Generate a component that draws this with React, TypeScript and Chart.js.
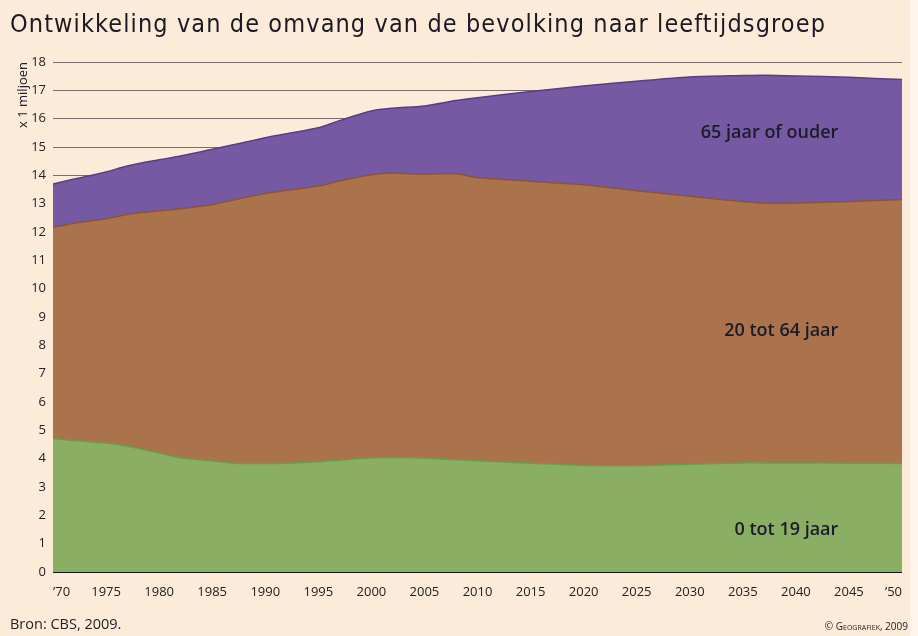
import React, { useEffect, useRef } from 'react';
import { Chart, registerables } from 'chart.js';

Chart.register(...registerables);

// Years of the data points
const years = [1970, 1972, 1975, 1977, 1980, 1982, 1985, 1987, 1990, 1992, 1995, 1997, 2000, 2002, 2005, 2008, 2010, 2015, 2020, 2025, 2030, 2035, 2037, 2040, 2045, 2050];

// Population per age group, x 1 million
const age0to19 = [4.71, 4.64, 4.55, 4.44, 4.2, 4.03, 3.92, 3.84, 3.83, 3.84, 3.89, 3.94, 4.03, 4.04, 4.02, 3.96, 3.93, 3.84, 3.76, 3.75, 3.8, 3.85, 3.85, 3.85, 3.84, 3.83];
const age20to64 = [7.45, 7.67, 7.92, 8.18, 8.55, 8.79, 9.05, 9.29, 9.53, 9.63, 9.73, 9.86, 9.99, 10.04, 10.02, 10.1, 9.99, 9.95, 9.91, 9.71, 9.46, 9.23, 9.17, 9.17, 9.24, 9.32];
const age65plus = [1.53, 1.56, 1.65, 1.71, 1.8, 1.86, 1.95, 1.95, 1.97, 2.0, 2.06, 2.13, 2.25, 2.29, 2.41, 2.58, 2.82, 3.17, 3.48, 3.86, 4.21, 4.44, 4.51, 4.49, 4.38, 4.23];

const seriesNames = ['0 tot 19 jaar', '20 tot 64 jaar', '65 jaar of ouder'];

// Axis ticks
const xTickYears = [1970, 1975, 1980, 1985, 1990, 1995, 2000, 2005, 2010, 2015, 2020, 2025, 2030, 2035, 2040, 2045, 2050];
const xTickLabels = ['\u201970', '1975', '1980', '1985', '1990', '1995', '2000', '2005', '2010', '2015', '2020', '2025', '2030', '2035', '2040', '2045', '\u201950'];
const yTickValues = [0, 1, 2, 3, 4, 5, 6, 7, 8, 9, 10, 11, 12, 13, 14, 15, 16, 17, 18];

const TEXT_FONT = '"Open Sans", "Noto Sans", sans-serif';

const areaLabels = {
  id: 'areaLabels',
  afterDraw(chart: any) {
    const { ctx, scales } = chart;
    const x = scales.x;
    const y = scales.y;
    ctx.save();
    ctx.font = '600 18px ' + TEXT_FONT;
    ctx.fillStyle = '#1d1b29';
    ctx.textAlign = 'right';
    ctx.textBaseline = 'middle';
    const xr = x.getPixelForValue(2044);
    ctx.fillText(seriesNames[2], xr, y.getPixelForValue(15.5));
    ctx.fillText(seriesNames[1], xr, y.getPixelForValue(8.5));
    ctx.fillText(seriesNames[0], xr, y.getPixelForValue(1.5));
    ctx.restore();
  },
};

export default function App() {
  const canvasRef = useRef<HTMLCanvasElement | null>(null);

  useEffect(() => {
    document.body.style.margin = '0';
    const canvas = canvasRef.current;
    if (!canvas) return;
    const mk = (vals: number[]) => years.map((yr, i) => ({ x: yr, y: vals[i] }));
    const chart = new Chart(canvas, {
      type: 'line',
      data: {
        datasets: [
          {
            label: seriesNames[0],
            data: mk(age0to19),
            backgroundColor: 'rgb(139,174,101)',
            borderColor: 'rgb(104,158,72)',
            borderWidth: 1.5,
            fill: 'origin',
            pointRadius: 0,
            tension: 0.3,
          },
          {
            label: seriesNames[1],
            data: mk(age20to64),
            backgroundColor: 'rgb(170,115,75)',
            borderColor: 'rgb(140,84,48)',
            borderWidth: 1.5,
            fill: '-1',
            pointRadius: 0,
            tension: 0.3,
          },
          {
            label: seriesNames[2],
            data: mk(age65plus),
            backgroundColor: 'rgb(118,89,163)',
            borderColor: 'rgb(88,60,140)',
            borderWidth: 1.5,
            fill: '-1',
            pointRadius: 0,
            tension: 0.3,
          },
        ],
      },
      options: {
        responsive: false,
        animation: false,
        devicePixelRatio: 1,
        layout: { padding: { left: 10, right: 16, top: 62, bottom: 34 } },
        plugins: {
          legend: { display: false },
          tooltip: { enabled: false },
          title: { display: false },
        },
        scales: {
          x: {
            type: 'linear',
            min: 1970,
            max: 2050,
            afterBuildTicks: (scale: any) => {
              scale.ticks = xTickYears.map((v) => ({ value: v }));
            },
            afterFit: (scale: any) => {
              scale.height = 30;
            },
            grid: { display: false, drawTicks: false },
            border: { display: false },
            ticks: {
              autoSkip: false,
              maxRotation: 0,
              padding: 12,
              align: 'inner',
              color: '#222028',
              font: { family: TEXT_FONT, size: 13 },
              callback: (v: any) => {
                const i = xTickYears.indexOf(Number(v));
                return i >= 0 ? xTickLabels[i] : '';
              },
            },
          },
          y: {
            stacked: true,
            min: 0,
            max: 18,
            z: 1,
            afterBuildTicks: (scale: any) => {
              scale.ticks = yTickValues.map((v) => ({ value: v }));
            },
            afterFit: (scale: any) => {
              scale.width = 43;
            },
            grid: {
              drawTicks: false,
              color: (c: any) => (c.tick && c.tick.value === 0 ? '#15151a' : 'rgba(35,25,40,0.6)'),
              lineWidth: (c: any) => (c.tick && c.tick.value === 0 ? 2 : 1),
            },
            border: { display: false },
            title: {
              display: true,
              text: 'x 1 miljoen',
              align: 'end',
              color: '#222028',
              padding: { top: 5, bottom: 0 },
              font: { family: TEXT_FONT, size: 13 },
            },
            ticks: {
              padding: 7,
              color: '#222028',
              font: { family: TEXT_FONT, size: 13 },
              callback: (v: any) => String(v),
            },
          },
        },
      },
      plugins: [areaLabels],
    } as any);
    return () => chart.destroy();
  }, []);

  return (
    <div style={{ position: 'fixed', left: 0, top: 0, width: 918, height: 636, background: '#FDEBD9', overflow: 'hidden' }}>
      <div style={{ position: 'absolute', left: 910, top: 0, width: 8, height: 636, background: '#FFF5EC' }} />
      <canvas ref={canvasRef} width={918} height={636} style={{ position: 'absolute', left: 0, top: 0 }} />
      <div
        style={{
          position: 'absolute',
          left: 10,
          top: 9,
          fontFamily: '"Liberation Sans Narrow", "DejaVu Sans Condensed", sans-serif',
          fontSize: 25,
          lineHeight: '30px',
          letterSpacing: '1.1px',
          color: '#1b1a24',
          whiteSpace: 'nowrap',
        }}
      >
        Ontwikkeling van de omvang van de bevolking naar leeftijdsgroep
      </div>
      <div
        style={{
          position: 'absolute',
          left: 10,
          top: 614,
          fontFamily: TEXT_FONT,
          fontSize: 14.5,
          lineHeight: '20px',
          color: '#222028',
          whiteSpace: 'nowrap',
        }}
      >
        Bron: CBS, 2009.
      </div>
      <div
        style={{
          position: 'absolute',
          right: 10,
          top: 619,
          fontFamily: TEXT_FONT,
          fontSize: 10,
          lineHeight: '14px',
          fontVariant: 'small-caps',
          color: '#222028',
          whiteSpace: 'nowrap',
        }}
      >
        © Geografiek, 2009
      </div>
    </div>
  );
}
